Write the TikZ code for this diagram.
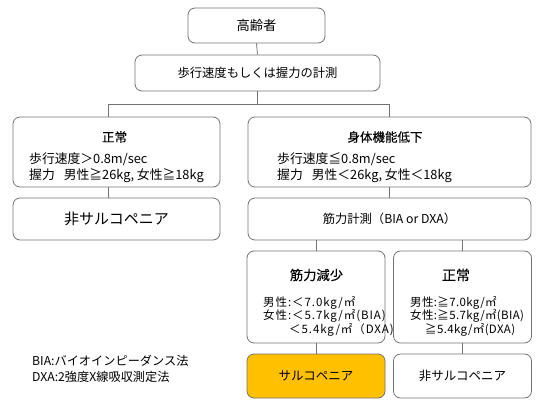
\documentclass[tikz,border=0pt]{standalone}
\usepackage{fontspec}
\setmainfont{Noto Sans CJK JP}
\newfontfamily\ttlfont[FakeBold=0.3]{Noto Sans CJK JP}
\newfontfamily\smlfont[LetterSpace=8]{Noto Sans CJK JP}
\newfontfamily\smrfont[LetterSpace=3]{Noto Sans CJK JP}
\begin{document}
\begin{tikzpicture}[x=1pt,y=-1pt,
  box/.style={draw=black!55, line width=0.8pt, rounded corners=7pt, inner sep=0pt},
  conn/.style={draw=black!55, line width=0.8pt},
  txt/.style={inner sep=0pt, font=\fontsize{12.3}{14}\selectfont},
  body/.style={inner sep=0pt, anchor=west, font=\fontsize{12.8}{15}\selectfont},
  small/.style={inner sep=0pt, font=\fontsize{11.5}{13}\smlfont, anchor=west},
  smallr/.style={inner sep=0pt, font=\fontsize{11.5}{13}\smrfont, anchor=west},
  title/.style={inner sep=0pt, font=\fontsize{12.5}{14}\ttlfont}]
\useasboundingbox (0,0) rectangle (540,404);
% boxes
\node[box, minimum width=137pt, minimum height=35pt] (elder) at (256.5,25.5) {};
\node[box, minimum width=245pt, minimum height=36pt] (meas1) at (257.5,73) {};
\node[box, minimum width=207pt, minimum height=70pt] (normL) at (116.5,152) {};
\node[box, minimum width=283pt, minimum height=70pt] (decl) at (389.5,152) {};
\node[box, minimum width=207pt, minimum height=42pt] (nonL) at (116.5,219) {};
\node[box, minimum width=283pt, minimum height=42pt] (meas2) at (389.5,219) {};
\node[box, minimum width=138pt, minimum height=92pt] (redu) at (316,297) {};
\node[box, minimum width=138pt, minimum height=92pt] (normR) at (462.5,297) {};
\node[box, fill={rgb,255:red,255;green,192;blue,0}, minimum width=138pt, minimum height=44pt] (sarco) at (316,376) {};
\node[box, minimum width=138pt, minimum height=44pt] (nonR) at (462.5,376) {};
% texts
\node[txt, font=\fontsize{13.3}{15}\selectfont] (t1) at (elder.center) {高齢者};
\node[txt] (t2) at (meas1.center) {歩行速度もしくは握力の計測};
\node[title] (t3) at (114.5,137) {正常};
\node[body] (t3a) at (29,159) {歩行速度＞0.8m/sec};
\node[body] (t3b) at (29,176) {握力\hspace{9pt}男性≧26kg, 女性≧18kg};
\node[title] (t4) at (385,137) {身体機能低下};
\node[body] (t4a) at (277,159) {歩行速度≦0.8m/sec};
\node[body] (t4b) at (277,176) {握力\hspace{9pt}男性＜26kg, 女性＜18kg};
\node[txt, font=\fontsize{15}{17}\selectfont] (t5) at (nonL.center) {非サルコペニア};
\node[txt] (t6) at (meas2.center) {筋力計測（BIA or DXA）};
\node[title, font=\fontsize{13.3}{15}\ttlfont] (t7) at (316.5,275) {筋力減少};
\node[small] (t7a) at (263,302.5) {男性:＜7.0kg/㎡};
\node[small] (t7b) at (263,316) {女性:＜5.7kg/㎡(BIA)};
\node[small] (t7c) at (289,329.5) {＜5.4kg/㎡（DXA)};
\node[title, font=\fontsize{14}{16}\ttlfont] (t8) at (456,275) {正常};
\node[smallr] (t8a) at (410,302.5) {男性:≧7.0kg/㎡};
\node[smallr] (t8b) at (410,316) {女性:≧5.7kg/㎡(BIA)};
\node[smallr] (t8c) at (425,329.5) {≧5.4kg/㎡(DXA)};
\node[txt, font=\fontsize{12.5}{14}\selectfont] (t9) at (sarco.center) {サルコペニア};
\node[txt, font=\fontsize{12.5}{14}\selectfont] (t10) at (nonR.center) {非サルコペニア};
\node[txt, anchor=west, font=\fontsize{12.2}{14}\selectfont] (leg1) at (32,361) {BIA:バイオインピーダンス法};
\node[txt, anchor=west, font=\fontsize{12.2}{14}\selectfont] (leg2) at (32,377) {DXA:2強度X線吸収測定法};
% connectors
\coordinate (sL) at (108,104);
\coordinate (sR) at (389.5,104);
\draw[conn] (elder.south) -- (meas1.north);
\draw[conn] (meas1.south) -- (meas1.south |- sL);
\draw[conn] (sL) -- (sR);
\draw[conn] (sL) -- (sL |- normL.north);
\draw[conn] (sR) -- (decl.north);
\draw[conn] (sL |- normL.south) -- (sL |- nonL.north);
\draw[conn] (decl.south) -- (meas2.north);
\draw[conn] (meas2.south -| redu.north) -- (redu.north);
\draw[conn] (meas2.south -| normR.north) -- (normR.north);
\draw[conn] (redu.south) -- (sarco.north);
\draw[conn] (normR.south) -- (nonR.north);
\end{tikzpicture}
\end{document}
